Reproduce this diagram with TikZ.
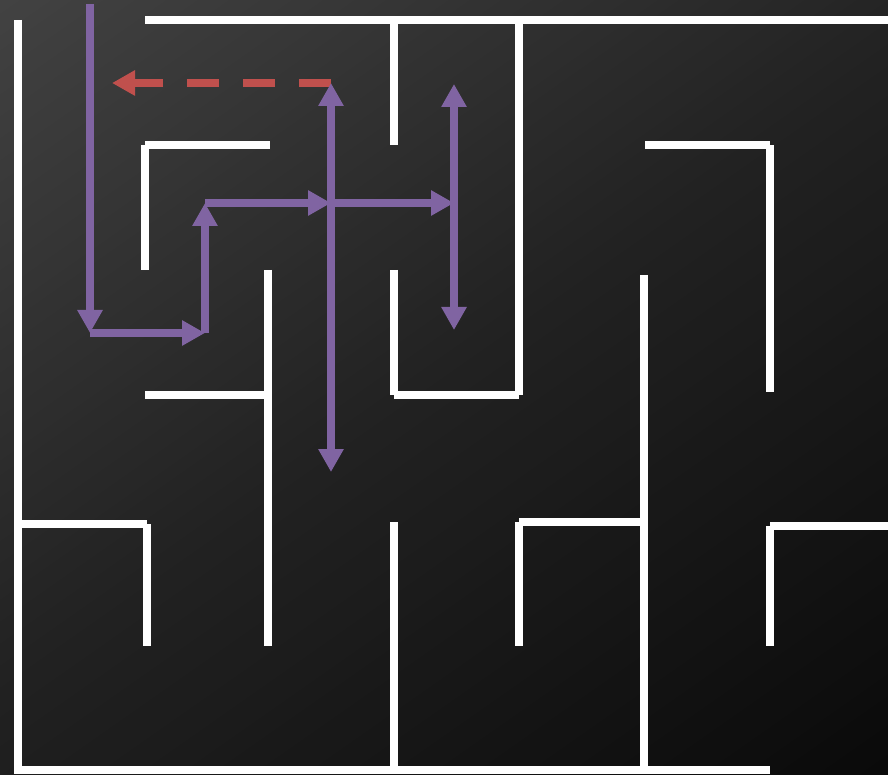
\documentclass[tikz,border=0pt]{standalone}
\definecolor{MazePurple}{RGB}{128,100,162}
\definecolor{MazeRed}{RGB}{192,80,77}
\usetikzlibrary{arrows.meta}
\tikzset{>={Triangle[length=23pt,width=24pt]}}
\tikzset{mywalls/.style={white,line width=8pt}}
\tikzset{mypath/.style={MazePurple,line width=8pt}}
\tikzset{myback/.style={MazeRed,line width=8pt,dash pattern=on 32pt off 24pt}}

\begin{document}
\begin{tikzpicture}[x=1pt,y=-1pt]
    \useasboundingbox (0,0) rectangle (888,775);
    % dark background, lighter at the top left
    \begin{scope}
        \clip (0,0) rectangle (888,775);
        \foreach \s in {0,6,...,1146} {
            \pgfmathsetmacro{\g}{ifthenelse(\s<571,66-\s/571*33,33-(\s-571)/571*23)/255}
            \definecolor{bgstrip}{gray}{\g}
            \fill[bgstrip,rotate=35] (-1000,\s) rectangle (1000,\s+7);
        }
    \end{scope}

    % maze walls
    \foreach \xa/\ya/\xb/\yb in {
        18/20/18/774,
        18/770/770/770,
        145/20/888/20,
        394/20/394/145,
        519/20/519/395,
        394/395/519/395,
        394/270/394/395,
        145/145/270/145,
        145/145/145/270,
        268/270/268/646,
        145/395/270/395,
        645/145/770/145,
        770/145/770/392,
        644/275/644/770,
        519/522/644/522,
        519/522/519/646,
        18/524/147/524,
        147/524/147/646,
        394/522/394/770,
        770/526/888/526,
        770/526/770/646} {
        \draw[mywalls] (\xa,\ya) -- (\xb,\yb);
    }

    \coordinate (start) at (90,4);
    \coordinate (turnA) at (90,333);
    \coordinate (turnB) at (205,333);
    \coordinate (turnC) at (205,203);
    \coordinate (cross) at (331,203);
    \coordinate (fork) at (454,203);
    \coordinate (upA) at (331,83);
    \coordinate (downA) at (331,472);
    \coordinate (upB) at (454,84);
    \coordinate (downB) at (454,330);
    \coordinate (back) at (112,83);

    \draw[myback,->] (upA) -- (back);
    \foreach \i/\j in {
        start/turnA,
        turnA/turnB,
        turnB/turnC,
        turnC/cross,
        cross/fork} {
        \draw[mypath,->] (\i) -- (\j);
    }
    \draw[mypath,<->] (upA) -- (downA);
    \draw[mypath,<->] (upB) -- (downB);
\end{tikzpicture}
\end{document}
